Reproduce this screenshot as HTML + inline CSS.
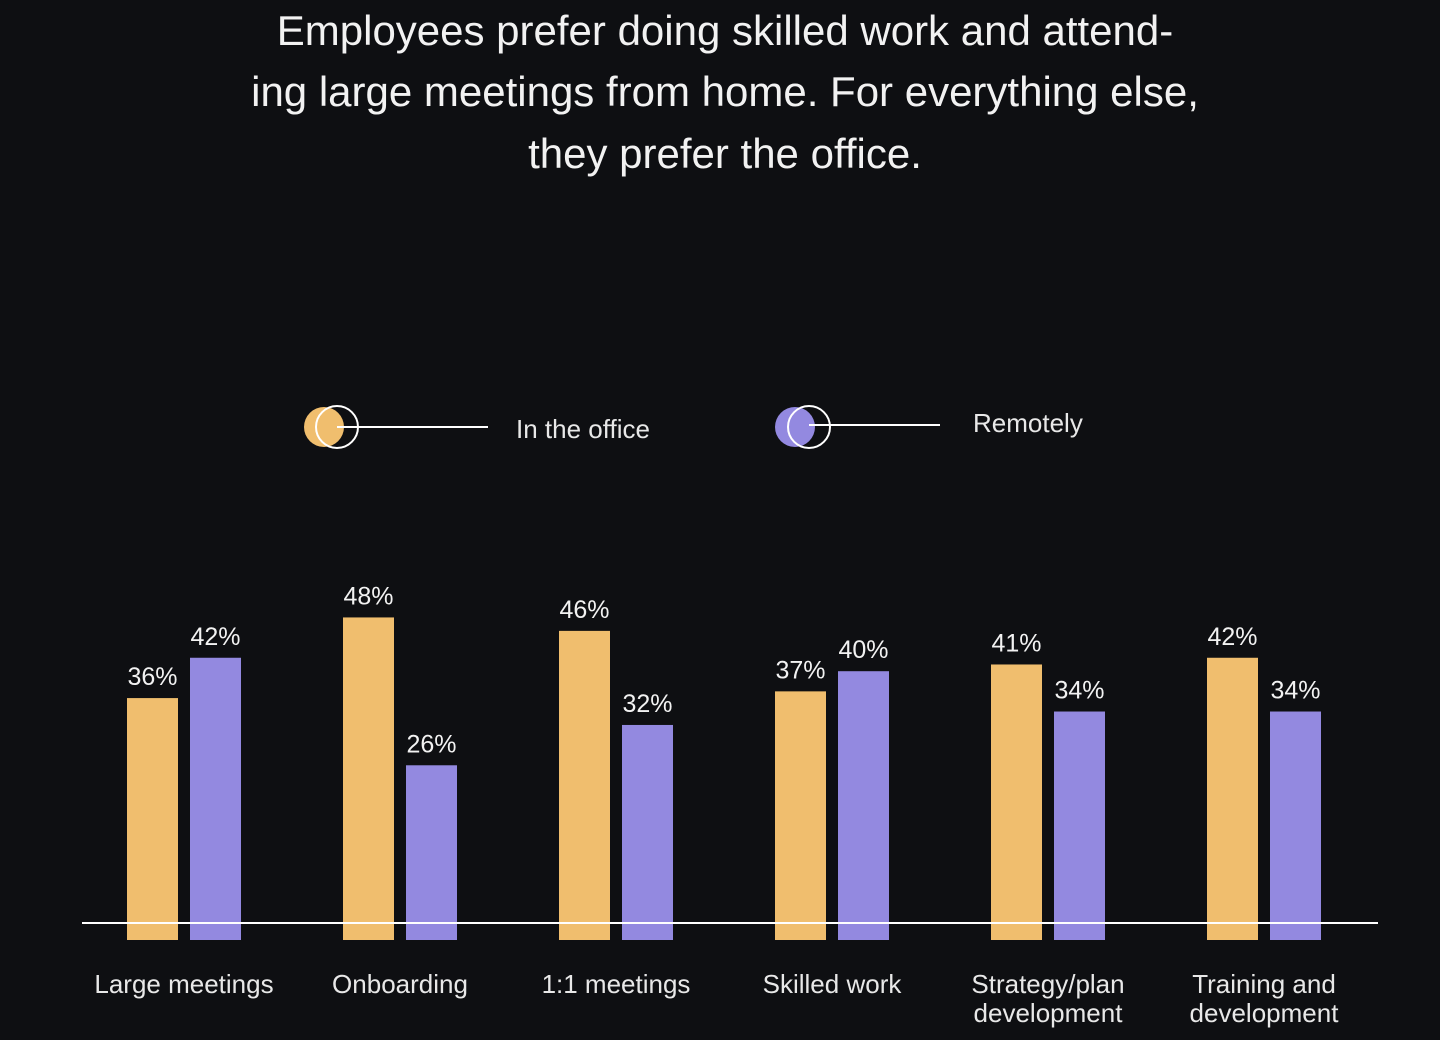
<!DOCTYPE html>
<html><head><meta charset="utf-8"><style>
body{margin:0;background:#0e0f12;}
svg{display:block;font-family:"Liberation Sans",sans-serif;}
</style></head><body>
<svg id="c" width="1440" height="1040">
<rect width="1440" height="1040" fill="#0e0f12"/>
<g fill="#f2f2f2" font-size="42" text-anchor="middle">
<text x="725" y="45">Employees prefer doing skilled work and attend-</text>
<text x="725" y="106">ing large meetings from home. For everything else,</text>
<text x="725" y="168">they prefer the office.</text>
</g>
<g>
<circle cx="324" cy="427" r="20" fill="#f0be6e"/>
<circle cx="337" cy="427" r="21" fill="none" stroke="#fff" stroke-width="2"/>
<line x1="337" y1="427" x2="488" y2="427" stroke="#fff" stroke-width="2"/>
<text x="516" y="438" fill="#e8e8e8" font-size="26">In the office</text>
</g>
<g>
<circle cx="795" cy="427" r="20" fill="#9389e0"/>
<circle cx="809" cy="427" r="21" fill="none" stroke="#fff" stroke-width="2"/>
<line x1="809" y1="425" x2="940" y2="425" stroke="#fff" stroke-width="2"/>
<text x="973" y="432" fill="#e8e8e8" font-size="26">Remotely</text>
</g>
<g id="bars"></g>
<line x1="82" y1="923" x2="1378" y2="923" stroke="#fff" stroke-width="2"/>
</svg>
<script>
const categories=[["Large meetings"],["Onboarding"],["1:1 meetings"],["Skilled work"],["Strategy/plan","development"],["Training and","development"]];
const officeValues=[36,48,46,37,41,42];
const remoteValues=[42,26,32,40,34,34];
const NS="http://www.w3.org/2000/svg";
const g=document.getElementById('bars');
const x0=184,step=216,bw=51,gap=12,bottom=940,ppu=6.72;
function xc(i){return x0+i*step;}
function y(v){return bottom-v*ppu;}
function mk(t,a){const e=document.createElementNS(NS,t);for(const k in a)e.setAttribute(k,a[k]);g.appendChild(e);return e;}
categories.forEach((c,i)=>{
  [[officeValues[i],-1,"#f0be6e","office"],[remoteValues[i],1,"#9389e0","remote"]].forEach(([v,s,col,nm])=>{
    const bx=s<0?xc(i)-gap/2-bw:xc(i)+gap/2;
    const r=mk('rect',{x:bx,y:y(v),width:bw,height:v*ppu,fill:col});
    
    
    const t=mk('text',{x:bx+bw/2,y:y(v)-13,fill:'#f2f2f2','font-size':25,'text-anchor':'middle'});
    t.textContent=v+'%';
    
    
  });
  c.forEach((ln,j)=>{
    const t=mk('text',{x:xc(i),y:993+j*29,fill:'#e8e8e8','font-size':26,'text-anchor':'middle'});
    t.textContent=ln;
    
    
  });
});
</script>
</body></html>
